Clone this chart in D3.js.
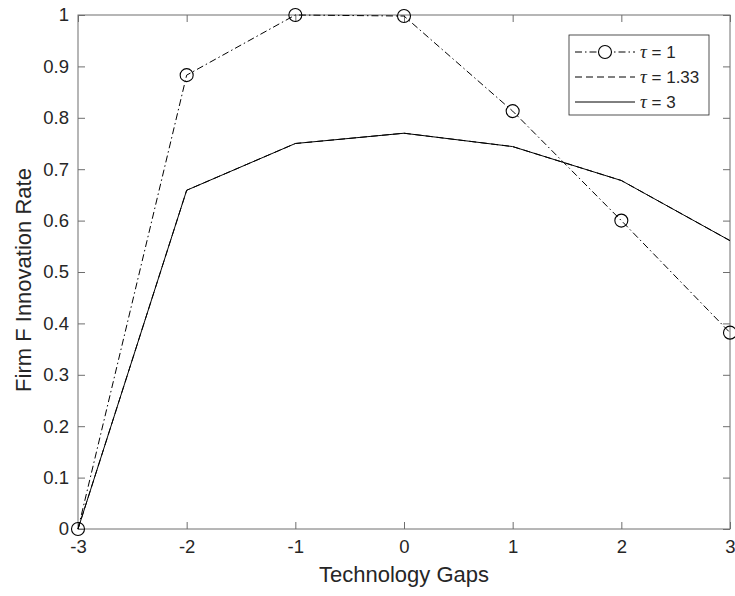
<!DOCTYPE html>
<html>
<head>
<meta charset="utf-8">
<script src="https://cdn.jsdelivr.net/npm/d3@7"></script>
<style>
  body { margin: 0; background: #fff; }
  svg text { font-family: "Liberation Sans", Arial, sans-serif; fill: #262626; }
</style>
</head>
<body>
<svg id="chart" width="735" height="596"></svg>
<script>
const gaps = [-3, -2, -1, 0, 1, 2, 3];
const tau1 = [0, 0.883, 1.0, 0.998, 0.813, 0.600, 0.382];
const tau133 = [0, 0.659, 0.750, 0.770, 0.744, 0.678, 0.561];
const tau3 = [0, 0.659, 0.750, 0.770, 0.744, 0.678, 0.561];
const yTicks = [0, 0.1, 0.2, 0.3, 0.4, 0.5, 0.6, 0.7, 0.8, 0.9, 1];
const legendLabels = ["1", "1.33", "3"];

const margin = { left: 78, top: 15, right: 5, bottom: 67 };
const width = 735 - margin.left - margin.right;
const height = 596 - margin.top - margin.bottom;

const svg = d3.select("#chart");
const vis = svg.append("g").attr("transform", `translate(${margin.left}, ${margin.top})`);

const xScale = d3.scaleLinear().domain([-3, 3]).range([0, width]);
const yScale = d3.scaleLinear().domain([0, 1]).range([height, 0]);

const axisColor = "#6e6e6e";
const tickLen = 7;

// Box and inward ticks
vis.append("rect")
    .attr("width", width).attr("height", height)
    .attr("fill", "none").attr("stroke", axisColor).attr("stroke-width", 1);

function styleAxis(g) {
    g.select(".domain").remove();
    g.selectAll(".tick line").attr("stroke", axisColor);
    g.selectAll(".tick text").attr("font-size", 18.5).attr("fill", "#262626");
}

vis.append("g")
    .attr("transform", `translate(0, ${height})`)
    .call(d3.axisBottom(xScale).tickValues(gaps).tickFormat(d => String(d)).tickSize(-tickLen).tickPadding(11))
    .call(styleAxis);
vis.append("g")
    .call(d3.axisTop(xScale).tickValues(gaps).tickFormat("").tickSize(-tickLen))
    .call(styleAxis);
vis.append("g")
    .call(d3.axisLeft(yScale).tickValues(yTicks).tickFormat(d => String(+d.toFixed(1))).tickSize(-tickLen).tickPadding(9))
    .call(styleAxis);
vis.append("g")
    .attr("transform", `translate(${width}, 0)`)
    .call(d3.axisRight(yScale).tickValues(yTicks).tickFormat("").tickSize(-tickLen))
    .call(styleAxis);

// Lines
const line = d3.line().x((d, i) => xScale(gaps[i])).y(d => yScale(d));

const series = [
    { values: tau133, dash: "7,4" },
    { values: tau3, dash: null },
    { values: tau1, dash: "7,3,1.5,3" }
];

series.forEach(s => {
    vis.append("path")
        .attr("d", line(s.values))
        .attr("fill", "none")
        .attr("stroke", "#000")
        .attr("stroke-width", 1)
        .attr("stroke-dasharray", s.dash);
});

vis.append("g").selectAll("circle")
    .data(tau1)
    .join("circle")
    .attr("cx", (d, i) => xScale(gaps[i]))
    .attr("cy", d => yScale(d))
    .attr("r", 6.5)
    .attr("fill", "none")
    .attr("stroke", "#000")
    .attr("stroke-width", 1.1);

// Axis labels
svg.append("text")
    .attr("x", margin.left + width / 2)
    .attr("y", 582)
    .attr("text-anchor", "middle")
    .attr("font-size", 22)
    .text("Technology Gaps");

svg.append("text")
    .attr("transform", `translate(31, ${margin.top + height / 2 + 8}) rotate(-90)`)
    .attr("text-anchor", "middle")
    .attr("font-size", 22)
    .text("Firm F Innovation Rate");

// Legend
const legend = svg.append("g").attr("transform", "translate(569, 35)");
legend.append("rect")
    .attr("width", 140).attr("height", 80)
    .attr("fill", "#fff").attr("stroke", "#262626").attr("stroke-width", 0.8);

const legendDash = ["7,3,1.5,3", "7,4", null];
legendLabels.forEach((lab, i) => {
    const y = 17 + i * 25;
    legend.append("line")
        .attr("x1", 6).attr("x2", 66).attr("y1", y).attr("y2", y)
        .attr("stroke", "#000").attr("stroke-width", 1)
        .attr("stroke-dasharray", legendDash[i]);
    if (i === 0) {
        legend.append("circle")
            .attr("cx", 36).attr("cy", y).attr("r", 6.5)
            .attr("fill", "#fff").attr("stroke", "#000").attr("stroke-width", 1.1);
    }
    const t = legend.append("text")
        .attr("x", 71).attr("y", y + 6)
        .attr("font-size", 17);
    t.append("tspan")
        .attr("font-family", "'Liberation Serif', 'Times New Roman', serif")
        .attr("font-style", "italic")
        .attr("font-size", 19)
        .text("\u03C4");
    t.append("tspan").text(" = " + lab);
});
</script>
</body>
</html>
